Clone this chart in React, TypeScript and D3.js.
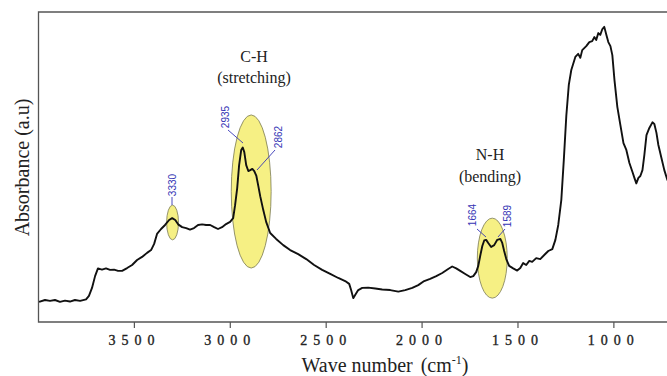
import React from "react";
import * as d3 from "d3";

// Wavenumber (cm^-1) and absorbance (a.u.)
const waveNumbers: number[] = [
  3997, 3966, 3940, 3914, 3888, 3862, 3836, 3810, 3783, 3752, 3737, 3721, 3705, 3690,
  3669, 3648, 3627, 3606, 3585, 3564, 3538, 3512, 3486, 3460, 3434, 3413, 3397, 3382,
  3361, 3340, 3319, 3303, 3287, 3272, 3251, 3230, 3210, 3189, 3168, 3147, 3126, 3105,
  3084, 3064, 3043, 3022, 3001, 2985, 2975, 2964, 2954, 2943, 2935, 2927, 2917, 2906,
  2896, 2885, 2875, 2864, 2854, 2844, 2828, 2813, 2792, 2761, 2724, 2688, 2646, 2604,
  2563, 2521, 2479, 2437, 2401, 2380, 2370, 2359, 2349, 2333, 2312, 2281, 2244, 2208,
  2166, 2124, 2088, 2051, 2020, 1989, 1958, 1926, 1895, 1864, 1843, 1822, 1801, 1775,
  1749, 1733, 1718, 1707, 1697, 1686, 1676, 1666, 1655, 1640, 1624, 1608, 1592, 1582,
  1572, 1561, 1546, 1525, 1504, 1488, 1473, 1457, 1441, 1426, 1405, 1384, 1363, 1342,
  1321, 1305, 1290, 1274, 1261, 1248, 1235, 1222, 1201, 1186, 1175, 1165, 1144, 1128,
  1113, 1102, 1092, 1081, 1071, 1060, 1050, 1039, 1029, 1018, 1008, 997, 982, 966,
  950, 935, 919, 903, 893, 883, 872, 862, 851, 841, 830, 815, 799, 789, 778, 768, 752,
  737, 721, 700,
];
const absorbance: number[] = [
  0.065, 0.071, 0.068, 0.071, 0.065, 0.069, 0.066, 0.071, 0.068, 0.073, 0.084, 0.110, 0.148, 0.173,
  0.169, 0.173, 0.168, 0.169, 0.165, 0.165, 0.174, 0.184, 0.200, 0.210, 0.223, 0.232, 0.252, 0.284,
  0.300, 0.313, 0.329, 0.335, 0.329, 0.315, 0.306, 0.303, 0.298, 0.303, 0.313, 0.315, 0.313, 0.313,
  0.306, 0.300, 0.306, 0.316, 0.323, 0.335, 0.377, 0.432, 0.506, 0.555, 0.563, 0.548, 0.506, 0.487,
  0.490, 0.494, 0.487, 0.471, 0.439, 0.406, 0.361, 0.323, 0.287, 0.268, 0.248, 0.232, 0.219, 0.203,
  0.184, 0.168, 0.155, 0.142, 0.132, 0.123, 0.103, 0.077, 0.087, 0.103, 0.110, 0.111, 0.108, 0.105,
  0.103, 0.098, 0.103, 0.110, 0.119, 0.132, 0.139, 0.148, 0.158, 0.171, 0.179, 0.173, 0.165, 0.155,
  0.145, 0.148, 0.161, 0.181, 0.213, 0.245, 0.263, 0.265, 0.255, 0.242, 0.248, 0.265, 0.268, 0.255,
  0.229, 0.203, 0.181, 0.173, 0.166, 0.174, 0.190, 0.184, 0.197, 0.194, 0.206, 0.203, 0.216, 0.229,
  0.235, 0.265, 0.313, 0.394, 0.523, 0.665, 0.765, 0.813, 0.855, 0.865, 0.852, 0.877, 0.890, 0.903,
  0.906, 0.919, 0.910, 0.932, 0.926, 0.945, 0.952, 0.926, 0.903, 0.890, 0.861, 0.781, 0.694, 0.635,
  0.577, 0.555, 0.513, 0.484, 0.465, 0.447, 0.465, 0.471, 0.490, 0.539, 0.603, 0.626, 0.644, 0.639, 0.610, 0.571, 0.529,
  0.490, 0.458, 0.442,
];

const xTicks: number[] = [3500, 3000, 2500, 2000, 1500, 1000];

// Highlighted band regions: centre wavenumber, half-width (cm^-1), centre absorbance, half-height
const bandCenters: number[] = [3301, 2891, 1634];
const bandHalfWidths: number[] = [31, 104, 78];
const bandLevels: number[] = [0.321, 0.421, 0.206];
const bandHalfHeights: number[] = [0.056, 0.247, 0.129];

// Peak labels
const peakLabels: string[] = ["3330", "2935", "2862", "1664", "1589"];

// Group labels
const groupTitles: string[] = ["C-H", "N-H"];
const groupSubtitles: string[] = ["(stretching)", "(bending)"];

const W = 667;
const H = 376;
const left = 38.5;
const top = 12;
const bottom = 322;

export default function App() {
  const x = d3.scaleLinear().domain([4000, 723]).range([left, 667]);
  const y = d3.scaleLinear().domain([0, 1]).range([bottom, top]);

  const pts: [number, number][] = waveNumbers.map((w, i) => [w, absorbance[i]]);
  const line = d3
    .line<[number, number]>()
    .x((d) => x(d[0]))
    .y((d) => y(d[1]));

  // label layout (px)
  const peakLayout = [
    { tx: 172, ty: 185, l: [172, 197, 172, 205] },
    { tx: 225, ty: 117, l: [228, 130, 243, 143] },
    { tx: 278, ty: 137, l: [275, 150, 257, 170] },
    { tx: 472, ty: 215, l: [477, 229, 486, 237] },
    { tx: 507, ty: 216, l: [505, 229, 498, 237] },
  ];
  const groupLayout = [
    { cx: 254, y1: 61.5, y2: 83 },
    { cx: 490, y1: 159.5, y2: 182 },
  ];

  const blue = "#3535b5";
  const serif = "'Liberation Serif', 'Times New Roman', serif";

  return (
    <svg
      width={W}
      height={H}
      style={{ position: "absolute", left: 0, top: 0, background: "#fff" }}
    >
      <defs>
        <clipPath id="plotclip">
          <rect x={left} y={top} width={W - left} height={bottom - top} />
        </clipPath>
      </defs>

      {/* frame */}
      <path
        d={`M${W},${top}H${left}V${bottom}H${W}`}
        fill="none"
        stroke="#555"
        strokeWidth={1.3}
      />

      {/* ticks */}
      {xTicks.map((t) => (
        <g key={t}>
          <line x1={x(t)} x2={x(t)} y1={bottom} y2={bottom + 6} stroke="#555" strokeWidth={1.2} />
          <text
            x={x(t)}
            y={345}
            textAnchor="middle"
            fontFamily={serif}
            fontSize={14}
            letterSpacing={6}
            fill="#222"
            stroke="#222"
            strokeWidth={0.35}
          >
            {t}
          </text>
        </g>
      ))}

      {/* band ellipses */}
      <g clipPath="url(#plotclip)">
        {bandCenters.map((c, i) => (
          <ellipse
            key={i}
            cx={x(c)}
            cy={y(bandLevels[i])}
            rx={Math.abs(x(c + bandHalfWidths[i]) - x(c))}
            ry={Math.abs(y(bandLevels[i] + bandHalfHeights[i]) - y(bandLevels[i]))}
            fill="#f6f084"
            stroke="#7a7a55"
            strokeWidth={0.8}
          />
        ))}
        <path d={line(pts) ?? ""} fill="none" stroke="#111" strokeWidth={1.9} strokeLinejoin="round" />
      </g>

      {/* peak labels */}
      {peakLabels.map((lab, i) => {
        const p = peakLayout[i];
        return (
          <g key={lab}>
            <line x1={p.l[0]} y1={p.l[1]} x2={p.l[2]} y2={p.l[3]} stroke={blue} strokeWidth={0.9} />
            <text
              transform={`translate(${p.tx},${p.ty}) rotate(-90)`}
              textAnchor="middle"
              dominantBaseline="central"
              fontFamily="'Liberation Sans', Arial, sans-serif"
              fontSize={10}
              fill={blue}
            >
              {lab}
            </text>
          </g>
        );
      })}

      {/* group labels */}
      {groupTitles.map((g, i) => (
        <g key={g} fontFamily={serif} fontSize={16} fill="#222" textAnchor="middle">
          <text x={groupLayout[i].cx} y={groupLayout[i].y1}>{g}</text>
          <text x={groupLayout[i].cx} y={groupLayout[i].y2}>{groupSubtitles[i]}</text>
        </g>
      ))}

      {/* axis titles */}
      <text x={385} y={372} textAnchor="middle" fontFamily={serif} fontSize={20} fill="#222">
        <tspan>Wave number</tspan>
        <tspan dx={8}>(cm</tspan>
        <tspan fontSize={12} dy={-8}>-1</tspan>
        <tspan dy={8}>)</tspan>
      </text>
      <text
        transform="translate(22,167.5) rotate(-90)"
        textAnchor="middle"
        dominantBaseline="central"
        fontFamily={serif}
        fontSize={20}
        fill="#222"
      >
        Absorbance (a.u)
      </text>
    </svg>
  );
}
